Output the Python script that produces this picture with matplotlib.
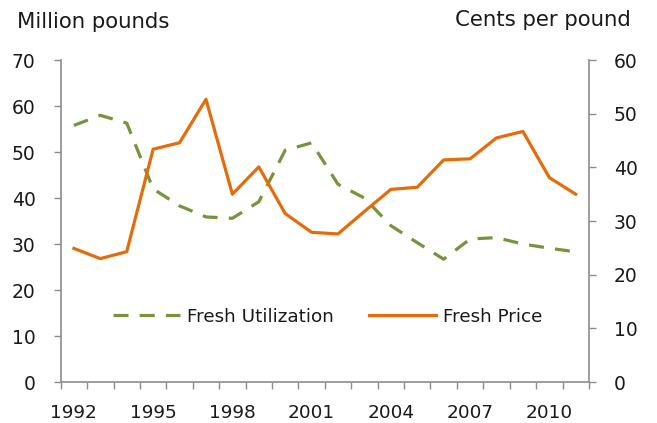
import matplotlib.pyplot as plt
import numpy as np

years = list(range(1992, 2012))
utilization = [55.8, 58.0, 56.3, 42.0, 38.3, 35.9, 35.6, 39.2, 50.4, 52.0,
               43.0, 40.0, 34.0, 30.3, 26.7, 31.1, 31.4, 30.0, 29.1, 28.3]
price = [24.9, 23.0, 24.3, 43.4, 44.6, 52.7, 35.0, 40.1, 31.4, 27.9,
         27.6, 31.8, 35.9, 36.3, 41.4, 41.6, 45.5, 46.7, 38.1, 35.0]
tick_years = years[::3]

plt.rcParams['font.family'] = ['DejaVu Sans']

green = "#77933C"
orange = "#E46C0A"
gray = "#8c8c8c"
txt = "#1a1a1a"

fig = plt.figure(figsize=(6.57, 4.23), dpi=100)
ax = fig.add_axes([0.0924, 0.0969, 0.804, 0.761])
ax2 = ax.twinx()

x = np.arange(len(years)) + 0.5
l1, = ax.plot(x, utilization, color=green, lw=2.3, linestyle=(0, (4.7, 3.5)),
              label="Fresh Utilization")
l2, = ax2.plot(x, price, color=orange, lw=2.3, label="Fresh Price")

ax.set_xlim(0, len(years))
ax.set_ylim(0, 70)
ax2.set_ylim(0, 60)
ax.set_yticks(range(0, 71, 10))
ax2.set_yticks(range(0, 61, 10))

ax.set_xticks(np.arange(len(years) + 1), minor=True)
ax.set_xticks([years.index(y) + 0.5 for y in tick_years])
ax.set_xticklabels([str(y) for y in tick_years])
ax.tick_params(axis="x", which="major", length=0, pad=15.5, labelsize=13.3,
               labelcolor=txt)
ax.tick_params(axis="x", which="minor", length=5, color=gray, width=1)

for a in (ax, ax2):
    a.spines["top"].set_visible(False)
    for s in ("left", "right", "bottom"):
        a.spines[s].set_color(gray)
        a.spines[s].set_linewidth(1.2)
    a.tick_params(axis="y", length=5, color=gray, width=1, labelsize=13.5,
                  pad=13, labelcolor=txt)
ax.spines["right"].set_visible(False)
ax2.spines["left"].set_visible(False)
ax2.spines["bottom"].set_visible(False)

fig.text(0.026, 0.948, "Million pounds", fontsize=15.3, ha="left", va="center",
         color=txt)
fig.text(0.960, 0.952, "Cents per pound", fontsize=15.3, ha="right", va="center",
         color=txt)

ax.legend(handles=[l1, l2], ncol=2, frameon=False, fontsize=13.2,
          handlelength=3.65, columnspacing=1.9, handletextpad=0.4,
          loc="center", bbox_to_anchor=(0.505, 0.203), labelcolor=txt)

fig.savefig("out.png", dpi=100)
